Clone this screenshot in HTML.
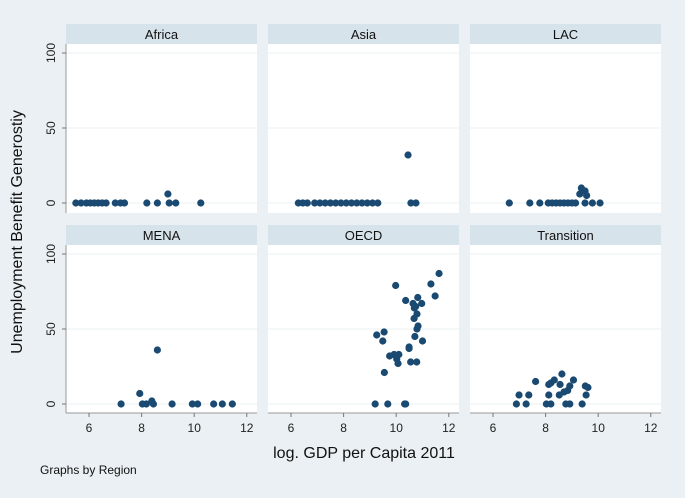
<!DOCTYPE html>
<html><head><meta charset="utf-8"><style>
body{margin:0;background:#eaf0f3;}
svg{display:block;font-family:"Liberation Sans",sans-serif;}
</style></head><body>
<svg id="c" width="685" height="498"></svg>
<script>
const regions=["Africa","Asia","LAC","MENA","OECD","Transition"];
const africaX=[5.5,5.7,5.9,6.05,6.2,6.35,6.5,6.65,7.0,7.2,7.35,8.2,8.6,9.05,9.3,10.25,9.0];
const africaY=[0,0,0,0,0,0,0,0,0,0,0,0,0,0,0,0,6];
const asiaX=[6.28,6.45,6.62,6.9,7.1,7.3,7.5,7.7,7.9,8.1,8.3,8.5,8.7,8.9,9.1,9.3,10.45,10.56,10.75];
const asiaY=[0,0,0,0,0,0,0,0,0,0,0,0,0,0,0,0,32,0,0];
const lacX=[6.62,7.4,7.78,8.1,8.25,8.4,8.55,8.7,8.85,9.0,9.14,9.36,9.5,9.3,9.56,9.5,9.78,10.07];
const lacY=[0,0,0,0,0,0,0,0,0,0,0,10,8,6,5,0,0,0];
const menaX=[7.22,7.93,8.03,8.18,8.39,8.45,9.16,9.93,10.13,10.74,11.07,11.45,8.6];
const menaY=[0,7,0,0,2,0,0,0,0,0,0,0,36];
const oecdX=[11.63,11.32,11.48,9.98,10.82,10.36,10.64,10.97,10.74,10.69,10.79,10.68,10.83,10.79,9.26,9.54,9.49,10.71,11.0,10.49,10.49,9.75,9.92,10.1,10.02,10.07,10.55,10.78,9.55,9.2,9.68,10.32,10.36];
const oecdY=[87,80,72,79,71,69,67,67,65,64,60,57,52,50,46,48,42,45,42,38,37,32,33,33,30,27,28,28,21,0,0,0,0];
const transX=[6.89,7.26,8.03,8.2,8.77,8.92,9.39,6.99,7.36,7.62,8.12,8.2,8.33,8.12,8.55,8.62,8.52,8.7,8.84,8.92,9.06,9.51,9.61,9.54];
const transY=[0,0,0,0,0,0,0,6,6,15,13,14,16,6,13,20,6,8,9,12,16,12,11,6];
const xTicks=[6,8,10,12];
const yTicks=[0,50,100];
const series=[[africaX,africaY],[asiaX,asiaY],[lacX,lacY],[menaX,menaY],[oecdX,oecdY],[transX,transY]];

const NS="http://www.w3.org/2000/svg";
const svg=document.getElementById('c');
function mk(t,a,p){const e=document.createElementNS(NS,t);for(const k in a)e.setAttribute(k,a[k]);(p||svg).appendChild(e);return e;}
const panelL=[66,268,470], panelW=191;
const rowTop=[24,225], hdrH=20, plotH=[169,168];
regions.forEach((r,i)=>{
  const col=i%3,row=Math.floor(i/3);
  const L=panelL[col],T=rowTop[row];
  const g=mk('g',{});
  
  
  const h=mk('rect',{x:L,y:T,width:panelW,height:hdrH,fill:'#d7e3ea'},g);
  
  
  const ht=mk('text',{x:L+panelW/2,y:T+15,'text-anchor':'middle','font-size':13,fill:'#111'},g);
  ht.textContent=r;
  
  
  const pT=T+hdrH, pH=plotH[row];
  mk('rect',{x:L,y:pT,width:panelW,height:pH,fill:'#fff'},g);
  const zeroY=pT+159;
  const xs=v=>L+23+(v-6)*26.3;
  const ys=v=>zeroY-v*1.5;
  yTicks.forEach(t=>{mk('line',{x1:L,x2:L+panelW,y1:ys(t),y2:ys(t),stroke:'#eaf2f3','stroke-width':1},g);});
  if(col===0){
    mk('line',{x1:L,x2:L,y1:pT,y2:pT+pH,stroke:'#999','stroke-width':1},g);
    yTicks.forEach(t=>{
      mk('line',{x1:L-4,x2:L,y1:ys(t),y2:ys(t),stroke:'#777'},g);
      const tx=mk('text',{x:55,y:ys(t),'text-anchor':'middle','font-size':12,fill:'#222',transform:`rotate(-90 55 ${ys(t)})`},g);
      tx.textContent=t;
      
      
    });
  }
  if(row===1){
    mk('line',{x1:L,x2:L+panelW,y1:pT+pH,y2:pT+pH,stroke:'#999'},g);
    xTicks.forEach(t=>{
      mk('line',{x1:xs(t),x2:xs(t),y1:pT+pH,y2:pT+pH+4,stroke:'#777'},g);
      const tx=mk('text',{x:xs(t),y:pT+pH+19,'text-anchor':'middle','font-size':12,fill:'#222'},g);
      tx.textContent=t;
      
      
    });
  }
  const [X,Y]=series[i];
  X.forEach((x,k)=>{
    const c=mk('circle',{cx:xs(x),cy:ys(Y[k]),r:3.6,fill:'#1a4a72'},g);
    
    
  });
});
const yt=mk('text',{x:22,y:232,'text-anchor':'middle','font-size':16,fill:'#111',transform:'rotate(-90 22 232)'});
yt.textContent='Unemployment Benefit Generostiy';


const xt=mk('text',{x:364,y:458,'text-anchor':'middle','font-size':16,fill:'#111'});
xt.textContent='log. GDP per Capita 2011';


const nt=mk('text',{x:40,y:474,'font-size':12,fill:'#111'});
nt.textContent='Graphs by Region';


</script>
</body></html>
